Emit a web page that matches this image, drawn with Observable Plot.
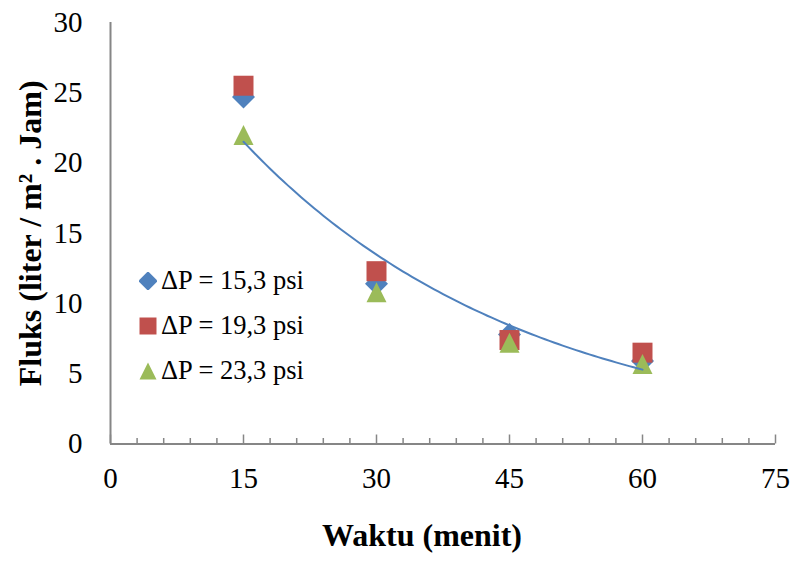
<!DOCTYPE html>
<html>
<head>
<meta charset="utf-8">
<script src="https://cdn.jsdelivr.net/npm/d3@7"></script>
<script src="https://cdn.jsdelivr.net/npm/@observablehq/plot@0.6"></script>
<style>
  body { margin: 0; background: #fff; }
  #chart { position: relative; width: 798px; height: 561px; }
  .legend { position: absolute; left: 139px; top: 258px; font-family: "Liberation Serif", "Times New Roman", serif; font-size: 26.5px; color: #000; }
  .legend .row { display: flex; align-items: center; height: 45px; }
  .legend svg { margin-right: 4px; }
</style>
</head>
<body>
<div id="chart"></div>
<script>
// Flux measurements over time for three transmembrane pressures
const waktu = [15, 30, 45, 60];
const fluks153 = [24.7, 11.4, 7.8, 5.9];
const fluks193 = [25.5, 12.3, 7.4, 6.5];
const fluks233 = [22.0, 10.8, 7.2, 5.7];

const seriesNames = ["ΔP = 15,3 psi", "ΔP = 19,3 psi", "ΔP = 23,3 psi"];
const seriesColors = ["#4F81BD", "#C0504D", "#9BBB59"];

const xTicks = [0, 15, 30, 45, 60, 75];
const yTicks = [0, 5, 10, 15, 20, 25, 30];
const xMinorStep = 3;

const xLabel = "Waktu (menit)";
const yLabel = "Fluks (liter / m² . Jam)";

// Marker shapes (size is π·r², r is the half-width)
const half = (size) => Math.sqrt(size / Math.PI);
const diamond = {draw(ctx, size) { const h = half(size) * 1.15; ctx.moveTo(0, -h); ctx.lineTo(h, 0); ctx.lineTo(0, h); ctx.lineTo(-h, 0); ctx.closePath(); }};
const square = {draw(ctx, size) { const r = half(size); ctx.moveTo(-r, -r); ctx.lineTo(r, -r); ctx.lineTo(r, r); ctx.lineTo(-r, r); ctx.closePath(); }};
const triangle = {draw(ctx, size) { const r = half(size); ctx.moveTo(0, -r); ctx.lineTo(r, r); ctx.lineTo(-r, r); ctx.closePath(); }};
const symbols = [diamond, square, triangle];

const seriesValues = [fluks153, fluks193, fluks233];
const points = seriesValues.map(vals => waktu.map((x, i) => ({x, y: vals[i]})));

// Exponential trendline fitted to the 15,3 psi series (least squares on ln y)
const lnY = fluks153.map(Math.log);
const mx = d3.mean(waktu), my = d3.mean(lnY);
const b = d3.sum(waktu, (x, i) => (x - mx) * (lnY[i] - my)) / d3.sum(waktu, x => (x - mx) ** 2);
const a = Math.exp(my - b * mx);
const trend = d3.range(d3.min(waktu), d3.max(waktu) + 0.001, 0.5).map(x => ({x, y: a * Math.exp(b * x)}));

const W = 798, H = 561;
const mTop = 22, mBottom = 117.5, mLeft = 110, mRight = 23;
const frameH = H - mTop - mBottom;
const axisGray = "#868686";
const minorTicks = d3.range(0, 75 + 0.001, xMinorStep).filter(v => !xTicks.includes(v));

const plot = Plot.plot({
  width: W,
  height: H,
  marginTop: mTop,
  marginBottom: mBottom,
  marginLeft: mLeft,
  marginRight: mRight,
  x: {domain: [0, 75]},
  y: {domain: [0, 30]},
  style: {fontFamily: "'Liberation Serif', 'Times New Roman', serif", fontSize: "29px", color: "#000", background: "#fff", overflow: "visible"},
  marks: [
    Plot.axisY(yTicks, {tickSize: 0, tickPadding: 28, label: null, fontSize: 29}),
    Plot.axisX(xTicks, {tickSize: 0, tickPadding: 23, label: null, fontSize: 29}),
    Plot.ruleX(minorTicks, {insetTop: frameH - 5.5, stroke: axisGray, strokeWidth: 1.5}),
    Plot.ruleX(xTicks, {insetTop: frameH - 9, stroke: axisGray, strokeWidth: 1.5}),
    Plot.ruleY([0], {stroke: axisGray, strokeWidth: 2}),
    Plot.ruleX([0], {stroke: axisGray, strokeWidth: 2}),
    ...points.map((pts, k) => Plot.dot(pts, {x: "x", y: "y", r: 10, symbol: symbols[k], fill: seriesColors[k], stroke: "none"})),
    Plot.line(trend, {x: "x", y: "y", stroke: seriesColors[0], strokeWidth: 2}),
    Plot.text([xLabel], {frameAnchor: "bottom", textAnchor: "middle", lineAnchor: "middle", dx: -21, dy: 92, fontWeight: "bold", fontSize: 32}),
    Plot.text([yLabel], {frameAnchor: "left", textAnchor: "middle", lineAnchor: "middle", dx: -80, rotate: -90, fontWeight: "bold", fontSize: 32})
  ]
});

const chart = document.getElementById("chart");
chart.appendChild(plot);

// Legend inside the plot area
const legend = document.createElement("div");
legend.className = "legend";
seriesNames.forEach((name, k) => {
  const row = document.createElement("div");
  row.className = "row";
  const sym = d3.create("svg").attr("width", 18).attr("height", 18).attr("viewBox", "-9 -9 18 18");
  sym.append("path").attr("d", d3.symbol(symbols[k], Math.PI * 8.5 * 8.5)()).attr("fill", seriesColors[k]);
  row.appendChild(sym.node());
  const label = document.createElement("span");
  label.textContent = name;
  row.appendChild(label);
  legend.appendChild(row);
});
chart.appendChild(legend);
</script>
</body>
</html>
